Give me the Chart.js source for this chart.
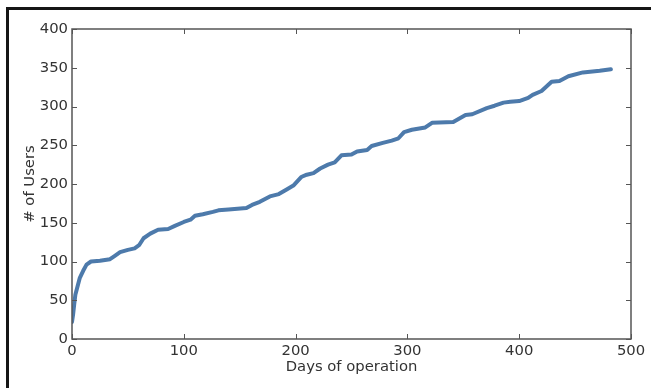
<!DOCTYPE html>
<html>
<head>
<meta charset="utf-8">
<script src="https://cdn.jsdelivr.net/npm/chart.js@4/dist/chart.umd.min.js"></script>
<style>
  html, body { margin: 0; padding: 0; background: #fff; }
  #wrap { position: relative; width: 651px; height: 388px; }
</style>
</head>
<body>
<div id="wrap"><canvas id="c" width="651" height="388"></canvas></div>
<script>
const days = [0,1,2,3,5,7,10,13,17,25,34,38,43,50,56,60,64,70,77,86,92,100,106,110,117,126,131,140,156,161,168,177,185,192,198,205,210,216,222,229,235,241,250,255,264,268,278,286,292,297,304,316,322,341,352,358,371,378,386,392,400,408,412,420,429,436,444,457,472,482];
const users = [22,32,45,57,68,79,88,96,100,101,103,107,112,115,117,121,130,136,141,142,146,151,154,159,161,164,166,167,169,173,177,184,187,193,198,209,212,214,220,225,228,237,238,242,244,249,253,256,259,267,270,273,279,280,289,290,298,301,305,306,307,311,315,320,332,333,339,344,346,348];
const xTicks = [0,100,200,300,400,500];
const yTicks = [0,50,100,150,200,250,300,350,400];

const points = days.map((d, i) => ({ x: d, y: users[i] }));

const frame = {
  id: 'frame',
  beforeDraw(chart) {
    const ctx = chart.ctx;
    ctx.save();
    ctx.fillStyle = '#fff';
    ctx.fillRect(0, 0, chart.width, chart.height);
    ctx.fillStyle = '#161616';
    ctx.fillRect(6, 7, chart.width - 6, 3);
    ctx.fillRect(6, 7, 3, chart.height - 7);
    ctx.restore();
  },
  afterDatasetsDraw(chart) {
    const ctx = chart.ctx;
    const a = chart.chartArea;
    const xs = chart.scales.x, ys = chart.scales.y;
    ctx.save();
    ctx.strokeStyle = '#555';
    ctx.lineWidth = 1.5;
    ctx.strokeRect(a.left, a.top, a.right - a.left, a.bottom - a.top);
    ctx.lineWidth = 1;
    ctx.beginPath();
    const tl = 5;
    xTicks.forEach(v => {
      const px = Math.round(xs.getPixelForValue(v)) + 0.5;
      ctx.moveTo(px, a.bottom); ctx.lineTo(px, a.bottom - tl);
      ctx.moveTo(px, a.top); ctx.lineTo(px, a.top + tl);
    });
    yTicks.forEach(v => {
      const py = Math.round(ys.getPixelForValue(v)) + 0.5;
      ctx.moveTo(a.left, py); ctx.lineTo(a.left + tl, py);
      ctx.moveTo(a.right, py); ctx.lineTo(a.right - tl, py);
    });
    ctx.stroke();
    ctx.restore();
  }
};

const font = { family: 'DejaVu Sans', size: 14.8 };
const textColor = '#333';

new Chart(document.getElementById('c'), {
  type: 'line',
  data: {
    datasets: [{
      data: points,
      borderColor: '#4d7aab',
      borderWidth: 4,
      pointRadius: 0,
      tension: 0,
      fill: false,
      borderCapStyle: 'round',
      borderJoinStyle: 'round'
    }]
  },
  options: {
    responsive: false,
    animation: false,
    layout: { padding: { left: 0, top: 29, right: 20, bottom: 0 } },
    plugins: { legend: { display: false }, tooltip: { enabled: false } },
    scales: {
      x: {
        type: 'linear',
        min: 0, max: 500,
        afterBuildTicks(s) { s.ticks = xTicks.map(v => ({ value: v })); },
        afterFit(s) { s.height = 49; },
        grid: { display: false, drawTicks: false },
        border: { display: false },
        ticks: { color: textColor, font, padding: 3, maxRotation: 0, autoSkip: false },
        title: { display: true, text: 'Days of operation', color: textColor, font, padding: { top: 0, bottom: 11.6 } }
      },
      y: {
        type: 'linear',
        min: 0, max: 400,
        afterBuildTicks(s) { s.ticks = yTicks.map(v => ({ value: v })); },
        afterFit(s) { s.width = 72; },
        grid: { display: false, drawTicks: false },
        border: { display: false },
        ticks: { color: textColor, font, padding: 4, autoSkip: false },
        title: { display: true, text: '# of Users', color: textColor, font, padding: { top: 21, bottom: 0 } }
      }
    }
  },
  plugins: [frame]
});
</script>
</body>
</html>
